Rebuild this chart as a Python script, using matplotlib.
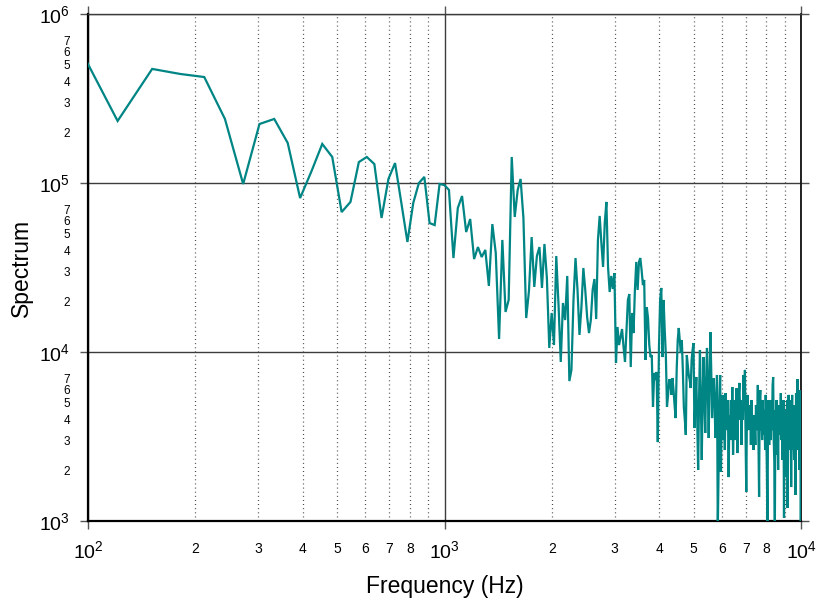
import numpy as np
import matplotlib
matplotlib.use("Agg")
import matplotlib.pyplot as plt
from matplotlib.ticker import FixedLocator, FixedFormatter

plt.rcParams['font.family'] = ['Liberation Sans', 'DejaVu Sans']
plt.rcParams['mathtext.fontset'] = 'custom'
plt.rcParams['mathtext.rm'] = 'Liberation Sans'
plt.rcParams['mathtext.it'] = 'Liberation Sans:italic'
plt.rcParams['mathtext.bf'] = 'Liberation Sans:bold'

# ---- data -------------------------------------------------------------
bin_width_hz = 30.27      # FFT bin spacing
first_bin = 3             # index of the first bin shown
# log10 of the spectrum, one value per FFT bin (bins 3 .. 331)
log_spectrum = [
    5.873, 5.367, 5.675, 5.645, 5.627, 5.379, 4.994, 5.349,
    5.379, 5.237, 4.911, 5.071, 5.231, 5.154, 4.828, 4.888, 5.124, 5.154,
    5.112, 4.793, 5.024, 5.118, 4.882, 4.651, 4.882, 5.000, 5.036, 4.763,
    4.751, 4.994, 4.988, 4.959, 4.556, 4.852, 4.923, 4.710, 4.787, 4.550,
    4.621, 4.562, 4.604, 4.391, 4.757, 4.586, 4.077, 4.663, 4.237, 4.308,
    5.154, 4.799, 4.959, 5.024, 4.793, 4.201, 4.361, 4.680, 4.385, 4.568,
    4.621, 4.379, 4.639, 4.438, 4.024, 4.231, 4.041, 4.568, 4.278, 3.941,
    4.290, 4.189, 4.450, 3.828, 3.894, 4.308, 4.556, 4.367, 4.101, 4.266,
    4.497, 4.367, 4.207, 4.112, 4.189, 4.367, 4.432, 4.195, 4.663, 4.805,
    4.645, 4.503, 4.763, 4.888, 4.503, 4.355, 4.450, 4.373, 4.467, 3.935,
    4.148, 4.041, 4.089, 4.136, 4.030, 3.941, 4.130, 4.308, 4.343, 3.911,
    4.231, 4.112, 4.367, 4.533, 4.367, 4.533, 4.556, 4.485, 4.396, 4.426,
    3.953, 4.266, 4.201, 4.041, 3.970, 3.982, 3.675, 3.876, 3.834, 3.882,
    3.467, 4.030, 4.308, 4.379, 3.970, 4.308, 4.130, 3.982, 3.675, 3.746,
    3.834, 3.834, 3.746, 3.846, 3.775, 3.686, 3.609, 3.894, 4.071, 4.142,
    4.071, 3.994, 4.071, 3.894, 3.675, 3.598, 3.509, 3.982, 3.923, 3.864,
    3.834, 3.787, 3.953, 4.012, 4.053, 3.550, 3.716, 3.852, 3.598, 3.302,
    3.716, 4.012, 3.716, 3.361, 3.716, 3.970, 3.716, 3.521, 3.834, 4.024,
    3.775, 3.491, 3.834, 4.118, 3.894, 3.609, 3.746, 3.846, 3.716, 3.491,
    3.657, 3.864, 2.950, 3.302, 3.716, 3.864, 3.290, 3.657, 3.746, 3.479,
    3.716, 3.420, 3.757, 3.538, 3.657, 3.716, 3.260, 3.627, 3.538, 3.716,
    3.479, 3.793, 3.391, 3.598, 3.716, 3.479, 3.657, 3.787, 3.402, 3.627,
    3.746, 3.817, 3.598, 3.716, 3.450, 3.686, 3.598, 3.864, 3.657, 3.894,
    3.479, 3.172, 3.657, 3.746, 3.538, 3.686, 3.598, 3.657, 3.450, 3.716,
    3.538, 3.598, 3.420, 3.627, 3.568, 3.450, 3.686, 3.538, 3.598, 3.805,
    3.479, 3.142, 3.716, 3.775, 3.538, 3.627, 3.479, 3.716, 3.568, 3.509,
    3.657, 3.420, 3.746, 3.538, 3.302, 2.950, 3.598, 3.716, 3.450, 3.657,
    3.598, 3.479, 3.716, 3.538, 3.805, 3.852, 3.479, 3.361, 2.950, 3.657,
    3.538, 3.716, 3.391, 3.598, 3.302, 3.686, 3.509, 3.627, 3.538, 3.757,
    3.479, 3.657, 3.361, 3.598, 3.716, 3.020, 3.538, 3.657, 3.450, 3.260,
    3.598, 3.716, 3.077, 3.538, 3.746, 3.420, 3.627, 3.479, 3.716, 3.201,
    3.598, 3.746, 3.420, 3.657, 3.538, 3.361, 3.686, 3.568, 3.154, 3.757,
    3.479, 3.627, 3.840, 3.420, 3.598, 3.716, 3.302, 3.538, 3.775, 2.950,
    3.598,
]
frequency = bin_width_hz * np.arange(first_bin, first_bin + len(log_spectrum))
spectrum = 10.0 ** np.asarray(log_spectrum)

x_major = [1e2, 1e3, 1e4]
x_major_labels = ['$10^{2}$', '$10^{3}$', '$10^{4}$']
y_major = [1e3, 1e4, 1e5, 1e6]
y_major_labels = ['$10^{3}$', '$10^{4}$', '$10^{5}$', '$10^{6}$']
x_minor_subs = [2, 3, 4, 5, 6, 7, 8, 9]
x_minor_labelled = [2, 3, 4, 5, 6, 7, 8]
y_minor_subs = [2, 3, 4, 5, 6, 7]

line_color = '#008585'

# ---- figure -----------------------------------------------------------
fig = plt.figure(figsize=(8.17, 6.04), dpi=100)
ax = fig.add_axes([88 / 817, 1 - 521 / 604, (801 - 88) / 817, (521 - 14) / 604])

ax.plot(frequency, spectrum, color=line_color, lw=1.6, solid_joinstyle='miter', zorder=3)

ax.set_xscale('log')
ax.set_yscale('log')
ax.set_xlim(1e2, 1e4)
ax.set_ylim(1e3, 1e6)

# major ticks / labels
ax.xaxis.set_major_locator(FixedLocator(x_major))
ax.xaxis.set_major_formatter(FixedFormatter(x_major_labels))
ax.yaxis.set_major_locator(FixedLocator(y_major))
ax.yaxis.set_major_formatter(FixedFormatter(y_major_labels))

# minor ticks / labels
xm, xml = [], []
for dec in [1e2, 1e3]:
    for s in x_minor_subs:
        xm.append(s * dec)
        xml.append(str(s) if s in x_minor_labelled else '')
ym, yml = [], []
for dec in [1e3, 1e4, 1e5]:
    for s in y_minor_subs:
        ym.append(s * dec)
        yml.append(str(s))
ax.xaxis.set_minor_locator(FixedLocator(xm))
ax.xaxis.set_minor_formatter(FixedFormatter(xml))
ax.yaxis.set_minor_locator(FixedLocator(ym))
ax.yaxis.set_minor_formatter(FixedFormatter(yml))

ax.tick_params(which='major', direction='out', length=6, width=1.0, color='#555555',
               top=True, right=True, labelsize=14)
ax.tick_params(axis='x', which='major', pad=8)
ax.tick_params(axis='y', which='major', pad=7)
ax.tick_params(which='minor', length=0)
ax.tick_params(axis='x', which='minor', pad=15, labelsize=10)
ax.tick_params(axis='y', which='minor', pad=13, labelsize=8.5)

# grid
ax.grid(which='major', color='#3c3c3c', lw=1.0, ls='-', zorder=1)
ax.xaxis.grid(which='minor', color='#333333', lw=0.9, ls=(0, (0.7, 2.6)), zorder=1)
ax.yaxis.grid(which='minor', visible=False)
ax.set_axisbelow(True)

# spines
for side in ['left', 'bottom']:
    ax.spines[side].set_linewidth(1.6)
    ax.spines[side].set_color('black')
ax.spines['right'].set_linewidth(1.3)
ax.spines['right'].set_color('#111111')
ax.spines['top'].set_linewidth(1.0)
ax.spines['top'].set_color('#3c3c3c')

ax.set_xlabel('Frequency (Hz)', fontsize=16.5, labelpad=9)
ax.set_ylabel('Spectrum', fontsize=16.5, labelpad=4)

fig.savefig('out.png', dpi=100)
